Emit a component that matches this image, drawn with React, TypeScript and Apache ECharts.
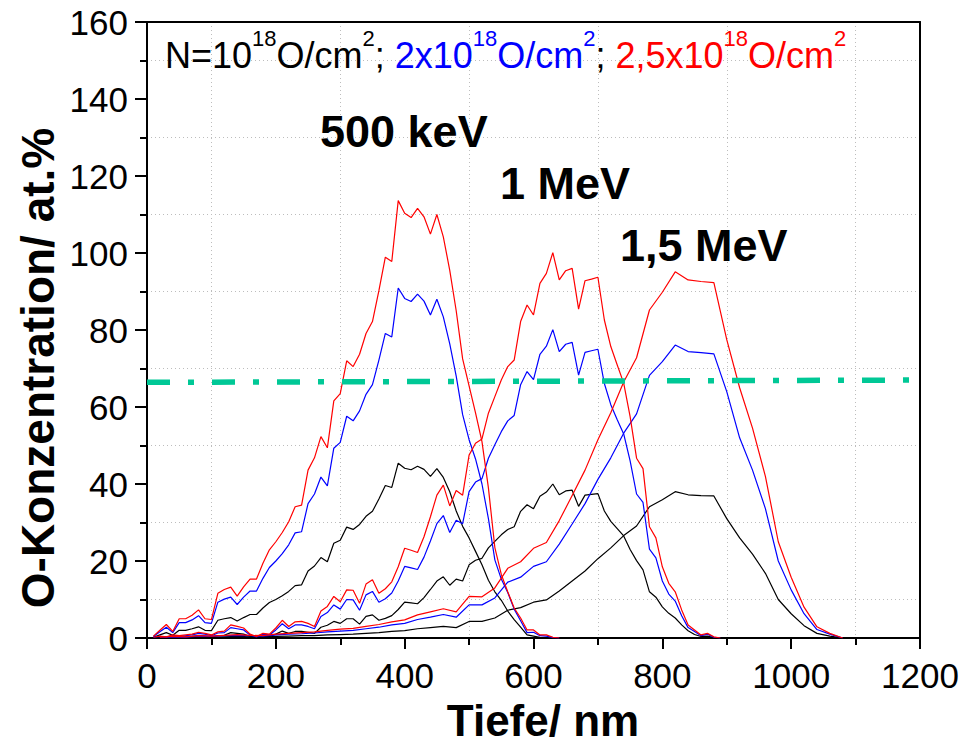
import React, { useEffect, useRef } from "react";
import * as echarts from "echarts";

// ---------- data (depth in nm, O concentration in at.%) ----------
const depth500 = [10, 20, 30, 40, 50, 60, 70, 80, 90, 100, 110, 120, 130, 140, 150, 160, 170, 180, 190, 200, 210, 220, 230, 240, 250, 260, 270, 280, 290, 300, 310, 320, 330, 340, 350, 360, 370, 380, 390, 400, 410, 420, 430, 440, 450, 460, 470, 480, 490, 500, 510, 520, 530, 540, 550, 560, 570, 580, 590, 600, 610, 620, 630, 640];
const black500 = [0.2, 0.8, 1.4, 0.7, 2.0, 2.0, 2.4, 2.9, 2.0, 1.9, 4.6, 5.0, 5.3, 4.4, 5.3, 6.1, 6.1, 7.8, 9.2, 10.0, 11.0, 12.1, 13.6, 13.8, 17.4, 18.7, 20.9, 19.8, 24.6, 25.4, 28.8, 28.2, 29.5, 31.6, 32.9, 36.1, 39.6, 39.1, 45.4, 44.1, 43.7, 44.6, 43.8, 42.0, 44.0, 41.7, 38.0, 33.0, 29.0, 26.0, 22.5, 19.0, 15.0, 12.0, 9.8, 7.0, 4.8, 2.8, 0.8, 0.5, 0.2, 0.1, 0.0, 0.0];
const blue500 = [0.4, 1.6, 2.8, 1.4, 4.0, 4.0, 4.7, 5.8, 4.0, 3.8, 9.3, 10.1, 10.6, 8.7, 10.6, 12.2, 12.2, 15.5, 18.3, 20.0, 21.9, 24.2, 27.3, 27.6, 34.9, 37.4, 41.8, 39.5, 49.3, 50.8, 57.6, 56.4, 59.0, 63.3, 65.8, 72.2, 79.1, 78.2, 90.9, 88.2, 87.4, 89.3, 87.5, 83.9, 88.0, 83.4, 76.4, 68.0, 58.0, 51.5, 46.5, 40.0, 31.0, 20.3, 15.3, 11.8, 7.5, 4.5, 1.4, 1.5, 0.6, 0.5, 0.1, 0.0];
const red500 = [0.5, 2.0, 3.5, 1.7, 5.0, 5.0, 5.9, 7.3, 5.0, 4.8, 11.6, 12.6, 13.2, 10.9, 13.3, 15.3, 15.3, 19.4, 22.9, 25.0, 27.4, 30.2, 34.1, 34.5, 43.6, 46.8, 52.3, 49.4, 61.6, 63.5, 72.0, 70.5, 73.7, 79.1, 82.2, 90.2, 98.9, 97.8, 113.6, 110.3, 109.2, 111.6, 109.4, 104.9, 110.0, 104.2, 95.5, 85.0, 72.5, 65.5, 58.5, 51.0, 39.0, 23.5, 16.5, 12.0, 7.8, 5.2, 2.1, 2.1, 0.8, 0.8, 0.2, 0.0];

const depth1000 = [10, 20, 30, 40, 50, 60, 70, 80, 90, 100, 110, 120, 130, 140, 150, 160, 170, 180, 190, 200, 210, 220, 230, 240, 250, 260, 270, 280, 290, 300, 310, 320, 330, 340, 350, 360, 370, 380, 390, 400, 410, 420, 430, 440, 450, 460, 470, 480, 490, 500, 510, 520, 530, 540, 550, 560, 570, 580, 590, 600, 610, 620, 630, 640, 650, 660, 670, 680, 690, 700, 710, 720, 730, 740, 750, 760, 770, 780, 790, 800, 810, 820, 830, 840, 850, 860, 870, 880, 890];
const black1000 = [0.1, 0.2, 0.1, 0.3, 0.2, 0.3, 0.4, 0.6, 0.5, 0.3, 0.6, 0.7, 1.4, 1.2, 1.0, 0.4, 0.2, 0.5, 0.4, 1.0, 1.8, 1.2, 1.7, 1.7, 1.5, 1.2, 2.8, 3.3, 4.3, 3.8, 5.0, 5.0, 3.6, 5.6, 6.0, 4.6, 5.1, 5.8, 7.4, 9.3, 9.1, 8.9, 10.5, 12.6, 14.8, 15.9, 13.7, 15.3, 14.8, 19.0, 20.2, 20.7, 23.4, 25.1, 26.8, 28.2, 28.9, 32.9, 34.6, 33.6, 36.8, 37.9, 40.0, 37.2, 38.2, 38.4, 34.2, 37.1, 37.3, 37.5, 33.0, 30.3, 28.4, 26.5, 23.0, 20.1, 17.7, 12.0, 10.6, 8.1, 6.4, 5.2, 3.4, 1.9, 0.9, 0.4, 0.5, 0.1, 0.0];
const blue1000 = [0.2, 0.4, 0.2, 0.6, 0.5, 0.6, 0.8, 1.2, 1.0, 0.6, 1.3, 1.4, 2.7, 2.4, 2.1, 0.8, 0.3, 1.0, 0.8, 2.1, 3.7, 2.4, 3.4, 3.4, 3.0, 2.4, 5.6, 6.6, 8.6, 7.5, 10.0, 9.9, 7.2, 11.2, 12.1, 9.3, 10.2, 11.7, 14.8, 18.6, 18.2, 17.8, 21.0, 25.2, 29.7, 31.8, 27.4, 30.6, 29.7, 38.0, 40.5, 41.4, 46.7, 50.2, 53.6, 56.4, 57.8, 65.8, 69.2, 67.1, 73.7, 75.8, 80.1, 74.4, 76.3, 76.8, 68.3, 74.2, 74.6, 75.0, 66.1, 60.6, 56.7, 53.0, 46.0, 37.4, 35.2, 23.1, 20.8, 14.8, 11.4, 9.6, 5.8, 2.7, 1.7, 0.6, 1.0, 0.2, 0.0];
const red1000 = [0.2, 0.5, 0.3, 0.8, 0.6, 0.8, 1.0, 1.5, 1.2, 0.8, 1.6, 1.8, 3.4, 3.0, 2.6, 1.0, 0.4, 1.2, 1.0, 2.6, 4.6, 3.0, 4.2, 4.3, 3.8, 3.0, 7.0, 8.2, 10.8, 9.4, 12.5, 12.4, 9.0, 14.0, 15.1, 11.6, 12.8, 14.6, 18.5, 23.3, 22.8, 22.2, 26.3, 31.5, 37.1, 39.7, 34.3, 38.3, 37.1, 47.5, 50.6, 51.7, 58.4, 62.7, 67.0, 70.5, 72.2, 82.2, 86.5, 83.9, 92.1, 94.7, 100.1, 93.0, 95.4, 96.0, 85.4, 92.8, 93.2, 93.7, 82.6, 75.7, 70.9, 66.2, 57.5, 46.7, 44.0, 28.9, 26.0, 18.5, 14.2, 12.0, 7.3, 3.4, 2.1, 0.8, 1.2, 0.3, 0.0];

const depth1500 = [20, 40, 60, 80, 100, 120, 140, 160, 180, 200, 220, 240, 260, 280, 300, 320, 340, 360, 380, 400, 420, 440, 460, 480, 500, 520, 540, 560, 580, 600, 620, 640, 660, 680, 700, 720, 740, 760, 780, 800, 820, 840, 860, 880, 900, 920, 940, 960, 980, 1000, 1020, 1040, 1060, 1080];
const black1500 = [0.1, 0.2, 0.1, 0.2, 0.2, 0.3, 0.4, 0.3, 0.2, 0.4, 0.5, 0.6, 0.6, 0.8, 0.9, 1.0, 1.2, 1.4, 1.7, 1.9, 2.4, 2.7, 3.0, 2.7, 4.3, 4.3, 5.2, 7.2, 7.9, 9.3, 9.9, 12.2, 14.8, 17.4, 20.6, 23.4, 26.6, 29.1, 34.1, 35.9, 38.0, 37.2, 37.0, 36.9, 31.0, 26.0, 21.8, 16.8, 10.0, 6.3, 3.2, 1.2, 0.5, 0.0];
const blue1500 = [0.2, 0.3, 0.2, 0.5, 0.4, 0.6, 0.7, 0.6, 0.5, 0.8, 1.0, 1.1, 1.3, 1.6, 1.8, 2.0, 2.4, 2.8, 3.4, 3.8, 4.8, 5.4, 6.1, 5.4, 8.6, 8.6, 10.4, 14.5, 15.8, 18.6, 19.8, 24.4, 29.6, 34.9, 41.2, 46.8, 53.2, 58.2, 68.2, 71.8, 76.1, 74.4, 74.1, 73.8, 64.0, 52.0, 43.6, 33.6, 20.0, 12.5, 6.3, 2.2, 1.0, 0.0];
const red1500 = [0.2, 0.4, 0.3, 0.6, 0.5, 0.7, 0.9, 0.7, 0.6, 1.0, 1.2, 1.4, 1.6, 2.0, 2.3, 2.5, 3.0, 3.5, 4.2, 4.7, 6.0, 6.8, 7.6, 6.8, 10.8, 10.7, 13.0, 18.1, 19.8, 23.3, 24.8, 30.5, 37.0, 43.6, 51.5, 58.5, 66.5, 72.8, 85.2, 89.8, 95.1, 93.0, 92.6, 92.3, 77.5, 65.0, 54.5, 42.0, 25.0, 15.8, 8.0, 2.9, 1.2, 0.0];

// stoichiometric SiO2 reference line (dash-dot)
const refDepth = [0, 1200];
const refValue = [66.4, 67.0];

const xTicks = { min: 0, max: 1200, interval: 200 };
const yTicks = { min: 0, max: 160, interval: 20 };

const energyLabels = ["500 keV", "1 MeV", "1,5 MeV"];

const FONT = "'Liberation Sans', Arial, Helvetica, sans-serif";

const pairs = (xs: number[], ys: number[]) => xs.map((x, i) => [x, ys[i]]);

function lineSeries(name: string, xs: number[], ys: number[], color: string) {
  return {
    name,
    type: "line",
    data: pairs(xs, ys),
    symbol: "none",
    showSymbol: false,
    silent: true,
    lineStyle: { color, width: 1.2 },
    itemStyle: { color },
    z: 2,
  };
}

export default function App() {
  const ref = useRef<HTMLDivElement>(null);

  useEffect(() => {
    if (!ref.current) return;
    const chart = echarts.init(ref.current, null, { renderer: "svg" });

    const axisBlack = { color: "#000", width: 2 };
    const gridDots = { color: "#bdbdbd", width: 1, type: [1, 3] };
    const plain = (v: number) => String(v);

    const main = (fill: string) => ({ fontSize: 36, lineHeight: 46, fill, fontFamily: FONT, verticalAlign: "bottom" });
    const sup = (fill: string) => ({ fontSize: 22, lineHeight: 22, fill, fontFamily: FONT, verticalAlign: "top" });

    const option: any = {
      animation: false,
      backgroundColor: "#ffffff",
      grid: { left: 147, right: 43, top: 22, bottom: 107, containLabel: false },
      xAxis: [
        {
          type: "value",
          min: xTicks.min,
          max: xTicks.max,
          interval: xTicks.interval,
          axisLine: { show: true, onZero: false, lineStyle: axisBlack },
          axisTick: { show: true, inside: false, length: 11, lineStyle: axisBlack },
          minorTick: { show: true, splitNumber: 2, length: 7, lineStyle: axisBlack },
          splitLine: { show: false },
          minorSplitLine: { show: true, lineStyle: gridDots },
          axisLabel: { fontSize: 35, color: "#000", fontFamily: FONT, margin: 20, formatter: plain },
        },
        {
          type: "value",
          position: "top",
          min: xTicks.min,
          max: xTicks.max,
          axisLine: { show: true, onZero: false, lineStyle: axisBlack },
          axisTick: { show: false },
          axisLabel: { show: false },
          splitLine: { show: false },
        },
      ],
      yAxis: [
        {
          type: "value",
          min: yTicks.min,
          max: yTicks.max,
          interval: yTicks.interval,
          axisLine: { show: true, onZero: false, lineStyle: axisBlack },
          axisTick: { show: true, inside: false, length: 12, lineStyle: axisBlack },
          minorTick: { show: true, splitNumber: 2, length: 7, lineStyle: axisBlack },
          splitLine: { show: false },
          minorSplitLine: { show: true, lineStyle: gridDots },
          axisLabel: { fontSize: 35, color: "#000", fontFamily: FONT, margin: 19, formatter: plain },
        },
        {
          type: "value",
          position: "right",
          min: yTicks.min,
          max: yTicks.max,
          axisLine: { show: true, onZero: false, lineStyle: axisBlack },
          axisTick: { show: false },
          axisLabel: { show: false },
          splitLine: { show: false },
        },
      ],
      series: [
        lineSeries("500 keV, 1e18", depth500, black500, "#000000"),
        lineSeries("1 MeV, 1e18", depth1000, black1000, "#000000"),
        lineSeries("1,5 MeV, 1e18", depth1500, black1500, "#000000"),
        lineSeries("500 keV, 2e18", depth500, blue500, "#0000ff"),
        lineSeries("1 MeV, 2e18", depth1000, blue1000, "#0000ff"),
        lineSeries("1,5 MeV, 2e18", depth1500, blue1500, "#0000ff"),
        lineSeries("500 keV, 2.5e18", depth500, red500, "#ff0000"),
        lineSeries("1 MeV, 2.5e18", depth1000, red1000, "#ff0000"),
        lineSeries("1,5 MeV, 2.5e18", depth1500, red1500, "#ff0000"),
        {
          name: "SiO2",
          type: "line",
          data: pairs(refDepth, refValue),
          symbol: "none",
          silent: true,
          lineStyle: { color: "#00c896", width: 5.5, type: [23, 18, 6, 18], cap: "butt" },
          z: 3,
        },
      ],
      graphic: [
        {
          type: "text",
          x: 165,
          y: 27,
          z: 10,
          style: {
            text:
              "{k|N=10}{ks|18}{k|O/cm}{ks|2}{k|; }{b|2x10}{bs|18}{b|O/cm}{bs|2}{k|; }{r|2,5x10}{rs|18}{r|O/cm}{rs|2}",
            align: "left",
            verticalAlign: "top",
            rich: {
              k: main("#000000"),
              ks: sup("#000000"),
              b: main("#0000ff"),
              bs: sup("#0000ff"),
              r: main("#ff0000"),
              rs: sup("#ff0000"),
            },
          },
        },
        {
          type: "text",
          x: 320,
          y: 131,
          z: 10,
          style: { text: energyLabels[0], fontSize: 45, fontWeight: "bold", fontFamily: FONT, fill: "#000", align: "left", verticalAlign: "middle" },
        },
        {
          type: "text",
          x: 500,
          y: 183,
          z: 10,
          style: { text: energyLabels[1], fontSize: 45, fontWeight: "bold", fontFamily: FONT, fill: "#000", align: "left", verticalAlign: "middle" },
        },
        {
          type: "text",
          x: 620,
          y: 245,
          z: 10,
          style: { text: energyLabels[2], fontSize: 45, fontWeight: "bold", fontFamily: FONT, fill: "#000", align: "left", verticalAlign: "middle" },
        },
        {
          type: "text",
          x: 38,
          y: 368,
          rotation: Math.PI / 2,
          z: 10,
          style: { text: "O-Konzentration/ at.%", fontSize: 46, fontWeight: "bold", fontFamily: FONT, fill: "#000", align: "center", verticalAlign: "middle" },
        },
        {
          type: "text",
          x: 543,
          y: 720,
          z: 10,
          style: { text: "Tiefe/ nm", fontSize: 44, fontWeight: "bold", fontFamily: FONT, fill: "#000", align: "center", verticalAlign: "middle" },
        },
      ],
    };

    chart.setOption(option);
    return () => chart.dispose();
  }, []);

  return (
    <div
      ref={ref}
      style={{ position: "fixed", left: 0, top: 0, width: 963, height: 745, background: "#fff" }}
    />
  );
}
